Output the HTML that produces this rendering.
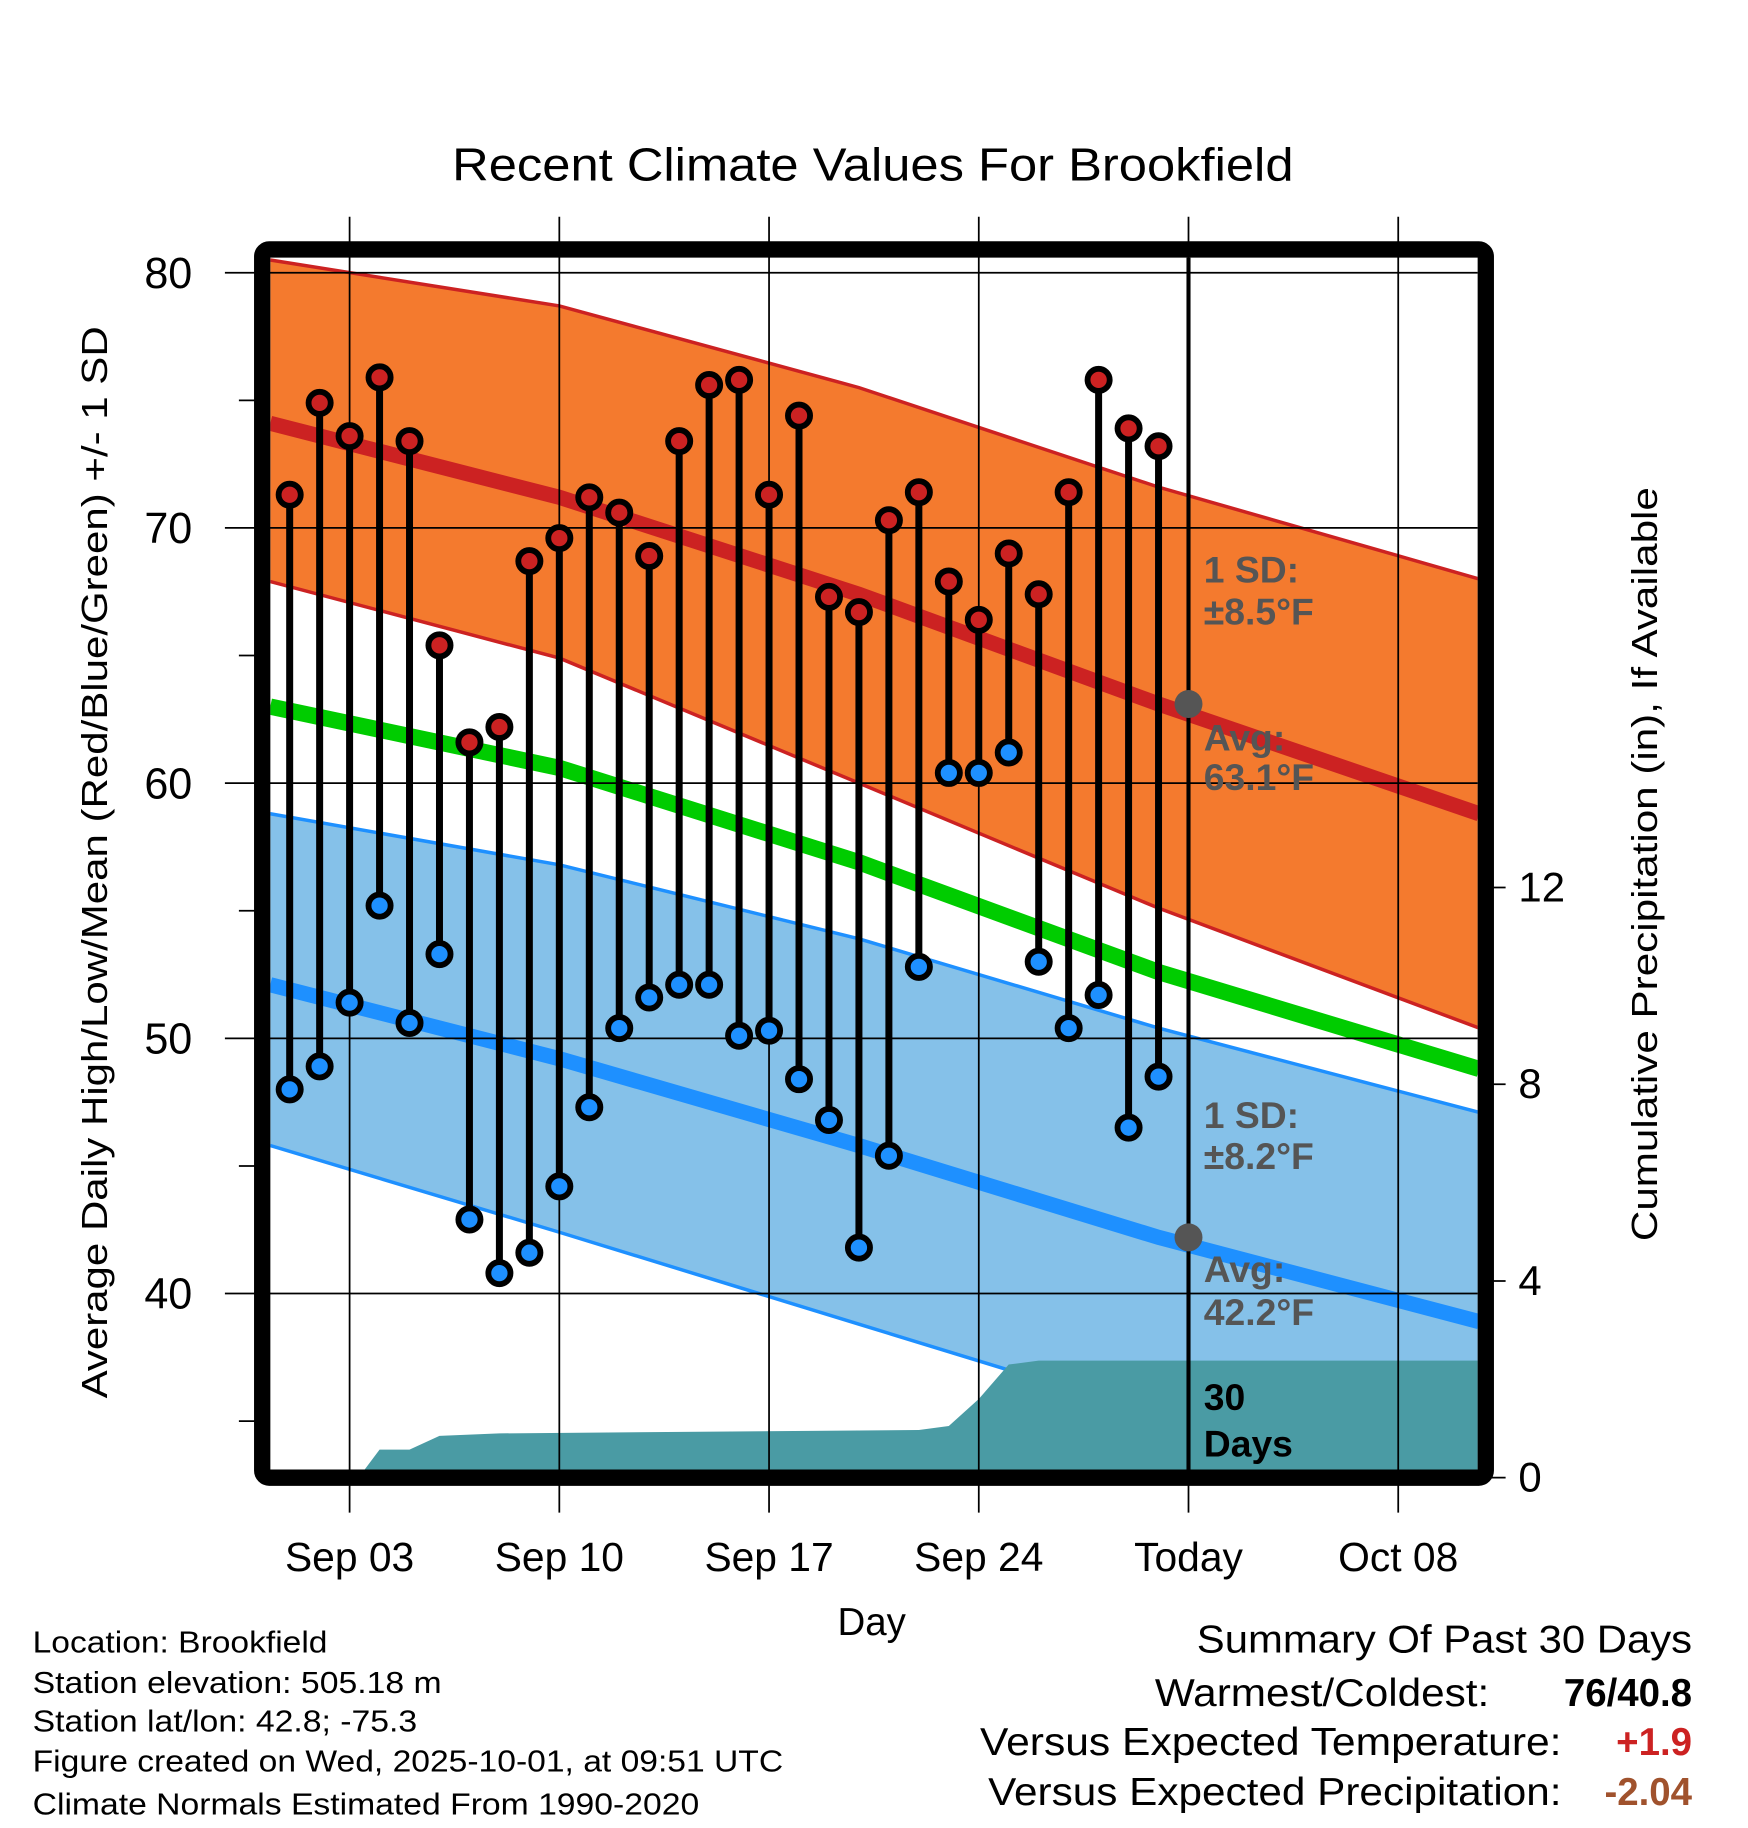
<!DOCTYPE html>
<html><head><meta charset="utf-8"><style>
html,body{margin:0;padding:0;background:#fff}
svg{display:block}
text{font-family:"Liberation Sans",Arial,sans-serif}
</style></head><body>
<svg id="chart" width="1748" height="1828" viewBox="0 0 1500 1568.6" xmlns="http://www.w3.org/2000/svg">
<rect width="1500" height="1568.6" fill="#fff"/>
<text x="388" y="155" font-size="40" textLength="722" lengthAdjust="spacingAndGlyphs">Recent Climate Values For Brookfield</text>
<g id="plot"></g>
<text transform="translate(92,1200) rotate(-90)" font-size="31" textLength="920" lengthAdjust="spacingAndGlyphs">Average Daily High/Low/Mean (Red/Blue/Green) +/- 1 SD</text>
<text transform="translate(1422,1065) rotate(-90)" font-size="31" textLength="647" lengthAdjust="spacingAndGlyphs">Cumulative Precipitation (in), If Available</text>
<text x="748" y="1403" font-size="33" text-anchor="middle">Day</text>
<g font-size="26">
<text x="28" y="1418" textLength="253" lengthAdjust="spacingAndGlyphs">Location: Brookfield</text>
<text x="28" y="1453" textLength="351" lengthAdjust="spacingAndGlyphs">Station elevation: 505.18 m</text>
<text x="28" y="1486" textLength="330" lengthAdjust="spacingAndGlyphs">Station lat/lon: 42.8; -75.3</text>
<text x="28" y="1520" textLength="644" lengthAdjust="spacingAndGlyphs">Figure created on Wed, 2025-10-01, at 09:51 UTC</text>
<text x="28" y="1557" textLength="572" lengthAdjust="spacingAndGlyphs">Climate Normals Estimated From 1990-2020</text>
</g>
<g font-size="33">
<text x="1027" y="1418" textLength="425" lengthAdjust="spacingAndGlyphs">Summary Of Past 30 Days</text>
<text x="991" y="1464" textLength="287" lengthAdjust="spacingAndGlyphs">Warmest/Coldest:</text>
<text x="1452" y="1464" text-anchor="end" font-weight="bold">76/40.8</text>
<text x="841" y="1506" textLength="499" lengthAdjust="spacingAndGlyphs">Versus Expected Temperature:</text>
<text x="1452" y="1506" text-anchor="end" font-weight="bold" fill="#cc2222">+1.9</text>
<text x="848" y="1549" textLength="492" lengthAdjust="spacingAndGlyphs">Versus Expected Precipitation:</text>
<text x="1452" y="1549" text-anchor="end" font-weight="bold" fill="#a0522d">-2.04</text>
</g>
</svg>
<script>
const highs=[71.3,74.9,73.6,75.9,73.4,65.4,61.6,62.2,68.7,69.6,71.2,70.6,68.9,73.4,75.6,75.8,71.3,74.4,67.3,66.7,70.3,71.4,67.9,66.4,69.0,67.4,71.4,75.8,73.9,73.2];
const lows=[48.0,48.9,51.4,55.2,50.6,53.3,42.9,40.8,41.6,44.2,47.3,50.4,51.6,52.1,52.1,50.1,50.3,48.4,46.8,41.8,45.4,52.8,60.4,60.4,61.2,53.0,50.4,51.7,46.5,48.5];
const normDays=[0.35,10,20,30,40.7];
const redUpper=[80.5,78.7,75.5,71.6,68.0];
const redMean=[74.1,71.2,67.4,63.1,58.8];
const redLower=[67.9,64.9,60.0,55.1,50.4];
const greenMean=[63.0,60.6,56.9,52.6,48.8];
const blueUpper=[58.8,56.8,53.9,50.4,47.1];
const blueMean=[52.1,49.2,45.8,42.2,38.9];
const blueLower=[45.8,42.4,38.8,35.2,31.6];
const precipDays=[0.35,3.3,4,5,6,8,22,23,24,25,26,40.7];
const precipVals=[0,0,0.57,0.57,0.85,0.9,0.97,1.05,1.6,2.3,2.38,2.38];
const yTicks=[40,50,60,70,80];
const y2Ticks=[0,4,8,12];
const xTickDays=[3,10,17,24,31,38];
const xTickLabels=["Sep 03","Sep 10","Sep 17","Sep 24","Today","Oct 08"];

const L=232,R=1268,T=221,B=1261;
const X=d=>300+(d-3)*25.71;
const Y=v=>234+(80-v)*21.9;
const Y2=p=>1268-p*42.2;
const NS="http://www.w3.org/2000/svg";
const g=document.getElementById('plot');
function mk(tag,attrs,parent){const e=document.createElementNS(NS,tag);for(const k in attrs)e.setAttribute(k,attrs[k]);(parent||g).appendChild(e);return e;}
function line(arr){return normDays.map((d,i)=>X(d).toFixed(1)+','+Y(arr[i]).toFixed(1));}
const clip=mk('clipPath',{id:'pc'});mk('rect',{x:L,y:T,width:R-L,height:B-T},clip);
const inner=mk('g',{'clip-path':'url(#pc)'});

let e=mk('polygon',{points:line(redUpper).concat(line(redLower).reverse()).join(' '),fill:'#f47a2e'},inner);


e=mk('polygon',{points:line(blueUpper).concat(line(blueLower).reverse()).join(' '),fill:'#85c1e9'},inner);


[[redUpper,'#cc2222',3,'high-sd-upper'],[redLower,'#cc2222',3,'high-sd-lower'],[blueUpper,'#1e90ff',3,'low-sd-upper'],[blueLower,'#1e90ff',3,'low-sd-lower'],[redMean,'#cc2222',13,'normal-high-line'],[greenMean,'#00cc00',14,'normal-mean-line'],[blueMean,'#1e90ff',13,'normal-low-line']].forEach(s=>{
 const p=mk('polyline',{points:line(s[0]).join(' '),fill:'none',stroke:s[1],'stroke-width':s[2]},inner);
 
 
});
const pp=precipDays.map((d,i)=>X(d).toFixed(1)+','+Y2(precipVals[i]).toFixed(1));
pp.push(X(precipDays[precipDays.length-1]).toFixed(1)+','+Y2(0));pp.push(X(precipDays[0]).toFixed(1)+','+Y2(0));
e=mk('polygon',{points:pp.join(' '),fill:'#4a9ba4'},inner);


yTicks.forEach(v=>{const l=mk('line',{x1:193,x2:R,y1:Y(v),y2:Y(v),stroke:'#000','stroke-width':1.5});
 
 
 const t=mk('text',{x:165,y:Y(v)+13,'font-size':37,'text-anchor':'end'});t.textContent=v;
 
 });
[35,45,55,65,75].forEach(v=>{mk('line',{x1:205,x2:225,y1:Y(v),y2:Y(v),stroke:'#000','stroke-width':1.5});});
xTickDays.forEach((d,i)=>{const l=mk('line',{x1:X(d),x2:X(d),y1:186,y2:1298,stroke:'#000','stroke-width':1.5});
 
 
 const t=mk('text',{x:X(d),y:1348,'font-size':35,'text-anchor':'middle'});t.textContent=xTickLabels[i];
 
 });
y2Ticks.forEach(p=>{mk('line',{x1:1275,x2:1292,y1:Y2(p),y2:Y2(p),stroke:'#000','stroke-width':1.5});
 const t=mk('text',{x:1303,y:Y2(p)+12,'font-size':36});t.textContent=p;
 
 });
e=mk('line',{x1:X(31),x2:X(31),y1:T,y2:B,stroke:'#000','stroke-width':3.5});


highs.forEach((h,i)=>{const x=X(i+1);
 const s=mk('line',{x1:x,x2:x,y1:Y(h),y2:Y(lows[i]),stroke:'#000','stroke-width':6});
 
 
 const c1=mk('circle',{cx:x,cy:Y(h),r:9.5,fill:'#cc2222',stroke:'#000','stroke-width':5});
 
 
 const c2=mk('circle',{cx:x,cy:Y(lows[i]),r:9.5,fill:'#1e90ff',stroke:'#000','stroke-width':5});
 
 });
e=mk('circle',{cx:X(31),cy:Y(63.1),r:12,fill:'#555'});


e=mk('circle',{cx:X(31),cy:Y(42.2),r:12,fill:'#555'});


[["1 SD:",500,'#555'],["±8.5°F",536,'#555'],["Avg:",644,'#555'],["63.1°F",678,'#555'],["1 SD:",968,'#555'],["±8.2°F",1003,'#555'],["Avg:",1100,'#555'],["42.2°F",1137,'#555'],["30",1210,'#000'],["Days",1250,'#000']].forEach(a=>{
 const t=mk('text',{x:1033,y:a[1],'font-size':32,'font-weight':'bold',fill:a[2]});t.textContent=a[0];
 
 });
e=mk('rect',{x:225,y:214,width:1050,height:1054,rx:6,fill:'none',stroke:'#000','stroke-width':14});


</script>
</body></html>
